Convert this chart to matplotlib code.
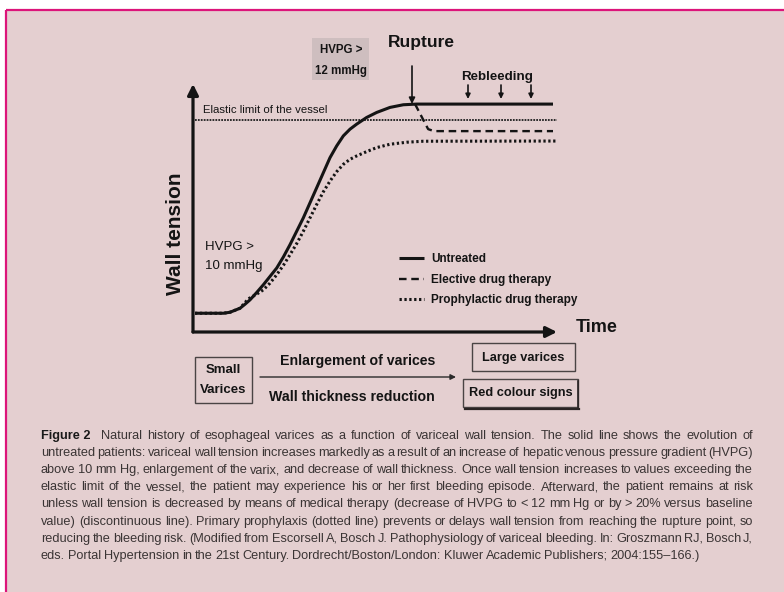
import matplotlib
matplotlib.use("Agg")
import matplotlib.pyplot as plt
from matplotlib import font_manager as fm
from matplotlib.patches import Rectangle

# ---- curve data (time in arbitrary units, wall tension in arbitrary units) ----
time_untreated = [0.055, 0.833, 1.016, 1.291, 1.429, 1.566, 1.749, 1.932, 2.115, 2.299,
                  2.482, 2.665, 2.848, 3.031, 3.214, 3.398, 3.581, 3.764, 3.947, 4.130,
                  4.313, 4.496, 4.771, 5.046, 5.412, 5.778, 6.145, 9.89]
tension_untreated = [0.756, 0.756, 0.796, 0.958, 1.120, 1.296, 1.592, 1.903, 2.240, 2.578,
                     3.023, 3.522, 4.062, 4.602, 5.209, 5.817, 6.424, 7.031, 7.503, 7.908,
                     8.178, 8.381, 8.651, 8.853, 9.056, 9.163, 9.190, 9.190]

time_elective = [6.10, 6.46, 6.62, 9.89]
tension_elective = [9.19, 8.18, 8.10, 8.10]

time_prophylactic = [0.055, 0.833, 1.016, 1.291, 1.52, 1.749, 1.932, 2.115, 2.299, 2.482,
                     2.665, 2.848, 3.031, 3.214, 3.398, 3.581, 3.764, 3.947, 4.130, 4.313,
                     4.496, 4.771, 5.046, 5.412, 5.870, 6.328, 10.0]
tension_prophylactic = [0.756, 0.756, 0.796, 0.958, 1.336, 1.525, 1.700, 1.970, 2.308, 2.686,
                        3.117, 3.563, 4.062, 4.602, 5.142, 5.655, 6.086, 6.464, 6.761, 6.964,
                        7.099, 7.274, 7.436, 7.571, 7.652, 7.692, 7.700]

elastic_time = [0.05, 10.0]
elastic_limit = [8.54, 8.54]

legend_labels = ["Untreated", "Elective drug therapy", "Prophylactic drug therapy"]

caption_lines = [
    "Natural history of esophageal varices as a function of variceal wall tension. The solid line shows the evolution of",
    "untreated patients: variceal wall tension increases markedly as a result of an increase of hepatic venous pressure gradient (HVPG)",
    "above 10 mm Hg, enlargement of the varix, and decrease of wall thickness. Once wall tension increases to values exceeding the",
    "elastic limit of the vessel, the patient may experience his or her first bleeding episode. Afterward, the patient remains at risk",
    "unless wall tension is decreased by means of medical therapy (decrease of HVPG to < 12 mm Hg or by > 20% versus baseline",
    "value) (discontinuous line). Primary prophylaxis (dotted line) prevents or delays wall tension from reaching the rupture point, so",
    "reducing the bleeding risk. (Modified from Escorsell A, Bosch J. Pathophysiology of variceal bleeding. In: Groszmann RJ, Bosch J,",
    "eds. Portal Hypertension in the 21st Century. Dordrecht/Boston/London: Kluwer Academic Publishers; 2004:155\u2013166.)",
]

# ---- styling ----
BG = "#E4CFD0"
BORDER = "#DC157A"
INK = "#141414"
CAP_INK = "#3A3434"
W, H = 784, 592

installed = {f.name for f in fm.fontManager.ttflist}
SANS = "Liberation Sans" if "Liberation Sans" in installed else "DejaVu Sans"
NARROW = "Liberation Sans Narrow" if "Liberation Sans Narrow" in installed else SANS

fig = plt.figure(figsize=(W / 100, H / 100), dpi=100, facecolor="white")

# full-figure canvas in pixel units for frame, boxes and captions
cax = fig.add_axes([0, 0, 1, 1])
cax.set_xlim(0, W)
cax.set_ylim(H, 0)
cax.axis("off")

cax.add_patch(Rectangle((6, 10), W - 6, H - 10, facecolor=BG, edgecolor="none", zorder=0))
cax.plot([6, W], [10, 10], color=BORDER, lw=1.6, solid_capstyle="butt", zorder=1)
cax.plot([6, 6], [10, H], color=BORDER, lw=1.6, solid_capstyle="butt", zorder=1)

# ---- diagram axes ----
x0, x1, ybot, ytop = 193, 557, 332, 84
ax = fig.add_axes([x0 / W, 1 - ybot / H, (x1 - x0) / W, (ybot - ytop) / H])
ax.set_xlim(0, 10)
ax.set_ylim(0, 10)
ax.patch.set_alpha(0)
for s in ax.spines.values():
    s.set_visible(False)
ax.set_xticks([])
ax.set_yticks([])

ax.plot(elastic_time, elastic_limit, color="#2a2a2a", lw=1.4, dashes=(0.9, 0.6))
l_unt, = ax.plot(time_untreated, tension_untreated, color=INK, lw=2.2,
                 solid_joinstyle="round", solid_capstyle="butt", label=legend_labels[0])
l_ele, = ax.plot(time_elective, tension_elective, color=INK, lw=1.7,
                 dashes=(3.2, 2.0), label=legend_labels[1])
l_pro, = ax.plot(time_prophylactic, tension_prophylactic, color=INK, lw=2.2,
                 dashes=(0.75, 0.85), label=legend_labels[2])

# axis arrows
arrow_kw = dict(arrowstyle="-|>", lw=2.3, color=INK, mutation_scale=16, shrinkA=0, shrinkB=0)
ax.annotate("", xy=(1.0, 0.0), xytext=(0.0, 0.0), xycoords="axes fraction", arrowprops=arrow_kw)
ax.annotate("", xy=(0.0, 1.0), xytext=(0.0, 0.0), xycoords="axes fraction", arrowprops=arrow_kw)

leg = ax.legend(handles=[l_unt, l_ele, l_pro], loc="upper left",
                bbox_to_anchor=(399 / W, 1 - 253 / H), bbox_transform=fig.transFigure,
                frameon=False, borderpad=0, borderaxespad=0, handlelength=2.1,
                handletextpad=0.6, labelspacing=0.74,
                prop=fm.FontProperties(family=SANS, weight="bold", size=8.5))
for t in leg.get_texts():
    t.set_color(INK)

# ---- diagram labels ----
def label(x, y, s, size, weight="bold", ha="center", va="center", family=SANS, **kw):
    return cax.text(x, y, s, fontsize=size, fontweight=weight, ha=ha, va=va,
                    family=family, color=INK, zorder=5, **kw)

label(176, 234, "Wall tension", 15, rotation=90)
label(576, 328, "Time", 13, ha="left")
label(203, 110, "Elastic limit of the vessel", 8.2, weight="normal", ha="left", family=NARROW)
label(205, 247, "HVPG >", 9.5, weight="normal", ha="left")
label(205, 266, "10 mmHg", 9.5, weight="normal", ha="left")

# HVPG > 12 box
cax.add_patch(Rectangle((312, 38), 57, 42, facecolor="#CEBEBF", edgecolor="none", zorder=2))
label(341, 50, "HVPG >", 8.3)
label(341, 71, "12 mmHg", 8.3)

label(421, 43, "Rupture", 12.5)
cax.annotate("", xy=(412, 104), xytext=(412, 66),
             arrowprops=dict(arrowstyle="-|>", lw=1.2, color=INK, mutation_scale=9,
                             shrinkA=0, shrinkB=0), zorder=5)

label(497, 77, "Rebleeding", 9.6)
for xr in (468, 501, 531):
    cax.annotate("", xy=(xr, 99), xytext=(xr, 85),
                 arrowprops=dict(arrowstyle="-|>", lw=1.2, color=INK, mutation_scale=7,
                                 shrinkA=0, shrinkB=0), zorder=5)

# ---- bottom flow boxes ----
box_kw = dict(facecolor="none", edgecolor="#4a4444", lw=1.0, zorder=3)
cax.add_patch(Rectangle((195, 357), 57, 46, **box_kw))
label(223.5, 370, "Small", 9.5)
label(223.5, 390, "Varices", 9.5)

label(358, 361, "Enlargement of varices", 10.2)
label(352, 397, "Wall thickness reduction", 10.2)
cax.annotate("", xy=(456, 377), xytext=(260, 377),
             arrowprops=dict(arrowstyle="-|>", lw=1.0, color="#2a2a2a", mutation_scale=8,
                             shrinkA=0, shrinkB=0), zorder=5)

cax.add_patch(Rectangle((472, 343), 103, 28, **box_kw))
label(523.5, 358, "Large varices", 9.2)

cax.add_patch(Rectangle((463, 379), 115, 28, **box_kw))
cax.plot([465, 579], [408.5, 408.5], color="#2a2424", lw=1.6, zorder=3)
cax.plot([578.5, 578.5], [381, 408.5], color="#2a2424", lw=1.2, zorder=3)
label(520.5, 393, "Red colour signs", 9.2)

# ---- caption, justified between two margins with one common font size ----
renderer = fig.canvas.get_renderer()
LEFT, RIGHT = 41, 753
CAP_SIZE = 9.3
MIN_GAP = 2.4
LEAD_GAP = 6

rows = []
y_line = 436
for i, line in enumerate(caption_lines):
    tokens = [(w, "normal") for w in line.split(" ")]
    if i == 0:
        tokens = [("Figure 2", "bold")] + tokens
    texts = [cax.text(0, y_line, w, fontsize=CAP_SIZE, fontweight=wt, family=NARROW,
                      ha="left", va="center",
                      color=CAP_INK if wt == "normal" else "#1a1a1a", zorder=5)
             for w, wt in tokens]
    rows.append(texts)
    y_line += 17.1

scale = 1.0
for i, texts in enumerate(rows):
    widths = [t.get_window_extent(renderer).width for t in texts]
    need = sum(widths) + (len(texts) - 1) * MIN_GAP + (LEAD_GAP if i == 0 else 0)
    scale = min(scale, (RIGHT - LEFT) / need)

for i, texts in enumerate(rows):
    for t in texts:
        t.set_fontsize(CAP_SIZE * scale)
    widths = [t.get_window_extent(renderer).width for t in texts]
    n_gaps = len(texts) - 1
    lead = LEAD_GAP if i == 0 else 0
    if i == len(rows) - 1:
        gap = MIN_GAP + 0.4
    else:
        gap = (RIGHT - LEFT - sum(widths) - lead) / n_gaps
    x = LEFT
    for k, (t, wd) in enumerate(zip(texts, widths)):
        t.set_x(x)
        x += wd + gap + (lead if k == 0 else 0)

fig.savefig("out.png", dpi=100, facecolor="white")
